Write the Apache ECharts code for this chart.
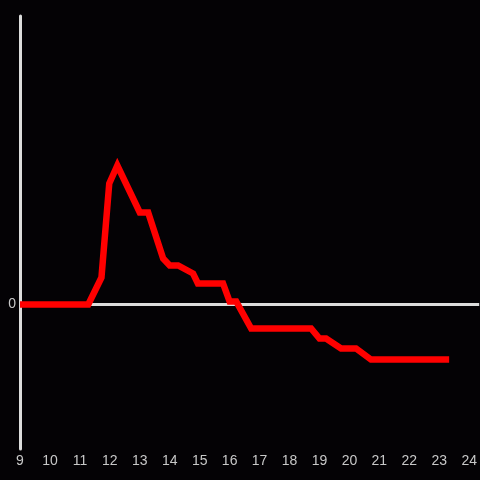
<!DOCTYPE html>
<html>
<head>
<meta charset="utf-8">
<script src="https://cdn.jsdelivr.net/npm/echarts@6/dist/echarts.min.js"></script>
<style>
html,body{margin:0;padding:0;background:#040205;}
#c{width:480px;height:480px;}
</style>
</head>
<body>
<div id="c"></div>
<script>
const hours = [9, 11.28, 11.72, 11.98, 12.25, 13.0, 13.28, 13.78, 14.0, 14.28, 14.78, 14.94, 15.78, 16.0, 16.22, 16.72, 18.72, 19.0, 19.22, 19.72, 20.22, 20.72, 23.33];
const values = [0, 0, 27, 121, 139, 92, 92, 46, 39, 39, 31, 21, 21, 3, 3, -24, -24, -34, -34, -44, -44, -55, -55];
const yTickLabels = ['0'];

const chart = echarts.init(document.getElementById('c'));
chart.setOption({
  backgroundColor: '#040205',
  animation: false,
  grid: {left: 20, right: 0, top: 16, bottom: 31},
  xAxis: {
    type: 'value', min: 9, max: 24 + 1/3, interval: 1,
    axisLine: {show: false, onZero: false},
    axisTick: {show: false},
    splitLine: {show: false},
    axisLabel: {color: '#c8c8c8', fontSize: 14, margin: 5, showMaxLabel: false, showMinLabel: true,
      fontFamily: 'Liberation Sans, Arial, sans-serif'}
  },
  yAxis: {
    type: 'value', min: -144.5, max: 288.5, interval: 144.5,
    axisLine: {show: true, lineStyle: {color: '#dcdcdc', width: 3}},
    axisTick: {show: false},
    splitLine: {show: false},
    axisLabel: {color: '#c8c8c8', fontSize: 14, margin: 4,
      fontFamily: 'Liberation Sans, Arial, sans-serif',
      formatter: v => yTickLabels.includes(String(v)) ? String(v) : ''}
  },
  series: [
    {
      type: 'line', data: [], z: 1, silent: true,
      markLine: {
        z: 1, silent: true, symbol: 'none', label: {show: false},
        lineStyle: {color: '#dcdcdc', width: 3, type: 'solid'},
        data: [{yAxis: 0}]
      }
    },
    {
      type: 'line', z: 3,
      data: hours.map((h, i) => [h, values[i]]),
      showSymbol: false, symbol: 'none',
      lineStyle: {color: '#ff0000', width: 6.5, cap: 'butt', join: 'miter'}
    }
  ]
});
</script>
</body>
</html>
